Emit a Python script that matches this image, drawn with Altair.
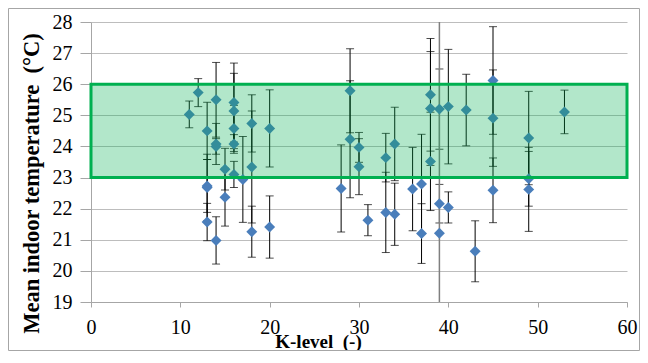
import altair as alt
import pandas as pd

# ---- data ----
k_level = [11, 12, 13, 13, 13, 13, 14, 14, 14, 14, 15, 15, 16, 16, 16, 16, 16, 17,
           18, 18, 18, 20, 20, 28, 29, 29, 30, 30, 31, 33, 33, 34, 34, 36, 37, 37,
           38, 38, 38, 39, 39, 39, 40, 40, 42, 43, 45, 45, 45, 49, 49, 49, 53]
temp = [25.03, 25.73, 24.50, 22.73, 22.68, 21.57, 25.50, 24.08, 24.00, 20.98,
        23.27, 22.37, 25.41, 25.14, 24.58, 24.08, 23.10, 22.94, 24.74, 23.34,
        21.26, 24.58, 21.41, 22.65, 25.79, 24.23, 23.97, 23.35, 21.63, 23.64,
        21.88, 24.08, 21.82, 22.63, 22.79, 21.20, 25.66, 25.22, 23.52, 25.20,
        22.16, 21.21, 25.28, 22.04, 25.17, 20.63, 26.12, 24.91, 22.59, 24.27,
        22.96, 22.62, 25.11]
err = [0.43, 0.45, 0.92, 0.85, 1.07, 0.60, 1.20, 0.66, 0.25, 0.76,
       0.67, 0.93, 1.27, 1.21, 0.74, 0.30, 0.42, 1.38, 0.92, 1.80,
       0.82, 1.24, 1.00, 1.40, 1.35, 1.88, 0.48, 0.90, 0.50, 0.78,
       1.29, 1.18, 1.00, 1.34, 1.60, 0.96, 1.81, 1.83, 1.58, 1.29,
       0.62, 0.00, 1.84, 0.50, 1.15, 0.98, 1.73, 1.55, 1.04, 1.50,
       0.88, 1.35, 0.70]

# the one very long error bar (runs past the plot limits)
long_k = [39]
long_t = [21.21]
long_err = [7.2]

# comfort band
band_x = [0, 60]
band_y = [23, 26]

x_ticks = [0, 10, 20, 30, 40, 50, 60]
y_ticks = [19, 20, 21, 22, 23, 24, 25, 26, 27, 28]

df = pd.DataFrame({"k": k_level, "t": temp, "e": err})
df["lo"] = df["t"] - df["e"]
df["hi"] = df["t"] + df["e"]
bars = df[df["e"] > 0]
caps = pd.concat([
    bars[["k"]].assign(t=bars["lo"]),
    bars[["k"]].assign(t=bars["hi"]),
])
long_df = pd.DataFrame({"k": long_k, "t": long_t, "e": long_err})
long_df["lo"] = long_df["t"] - long_df["e"]
long_df["hi"] = long_df["t"] + long_df["e"]
band_df = pd.DataFrame({"k": [band_x[0]], "k2": [band_x[1]],
                        "t": [band_y[0]], "t2": [band_y[1]]})

FONT = "Liberation Serif"
LFONT = "'Liberation Serif', 'Times New Roman', serif"
GRAY = "#a6a6a6"

xscale = alt.Scale(domain=[0, 60], nice=False, zero=False)
yscale = alt.Scale(domain=[19, 28], nice=False, zero=False)

xaxis = alt.Axis(values=x_ticks, grid=False, domainColor=GRAY, tickColor=GRAY,
                 tickSize=5, labelFont=LFONT, labelFontSize=20, labelColor="black",
                 labelFontWeight="normal",
                 labelPadding=10, labelFlush=False, labelOverlap=False,
                 title="K-level \u00a0(-)", titleFont=FONT, titleFontSize=19,
                 titleFontWeight="bold", titleColor="black", titleX=227, titleY=45,
                 titleBaseline="alphabetic", titleAlign="center")
yaxis = alt.Axis(values=y_ticks, grid=True, gridColor="#bdbdbd", domainColor=GRAY,
                 tickColor=GRAY, tickSize=11, labelFont=LFONT, labelFontSize=20,
                 labelColor="black", labelPadding=8, labelFlush=False,
                 labelFontWeight="normal", labelOverlap=False,
                 title="Mean indoor temperature \u00a0(°C)", titleFont=FONT,
                 titleFontSize=22.5, titleFontWeight="bold", titleColor="black",
                 titleAngle=270, titleX=-53, titleY=161, titleBaseline="alphabetic",
                 titleAlign="center")

X = alt.X("k:Q", scale=xscale, axis=xaxis)
Y_lo = alt.Y("lo:Q", scale=yscale, axis=yaxis)
Y_t = alt.Y("t:Q", scale=yscale, axis=yaxis)

rules = alt.Chart(bars).mark_rule(color="black", strokeWidth=1).encode(
    x=X, y=Y_lo, y2="hi:Q",
)
cap_marks = alt.Chart(caps).mark_tick(orient="horizontal", size=8, thickness=1,
                                      color="black").encode(x=X, y=Y_t)
long_rule = alt.Chart(long_df).mark_rule(color="#7f7f7f", strokeWidth=1.5,
                                         clip=True).encode(x=X, y=Y_lo, y2="hi:Q")
points = alt.Chart(df).mark_point(shape="diamond", filled=True, size=120,
                                  color="#4a7ebb", opacity=1).encode(x=X, y=Y_t)
band = alt.Chart(band_df).mark_rect(fill="#00b050", fillOpacity=0.3,
                                    stroke="#00b050", strokeWidth=3,
                                    strokeOpacity=1).encode(
    x=X, x2="k2:Q", y=Y_t, y2="t2:Q",
)
frame = alt.Chart(pd.DataFrame({"a": [0]})).mark_rect(
    fillOpacity=0, stroke="#a6a6a6", strokeWidth=1, clip=False).encode(
    x=alt.value(-82.5), x2=alt.value(548.5),
    y=alt.value(-13.5), y2=alt.value(328.5),
)

chart = alt.layer(rules, cap_marks, long_rule, points, band, frame).properties(
    width=536, height=280,
    padding={"left": 83, "top": 14, "right": 13, "bottom": 49},
    autosize=alt.AutoSizeParams(type="none"),
    background="white",
).configure_view(
    stroke="transparent"
).configure_axis(
    labelFont=LFONT, titleFont=FONT, labelFontSize=20, labelColor="black"
)

chart.save("out.html", embed_options={"renderer": "svg", "actions": False})
